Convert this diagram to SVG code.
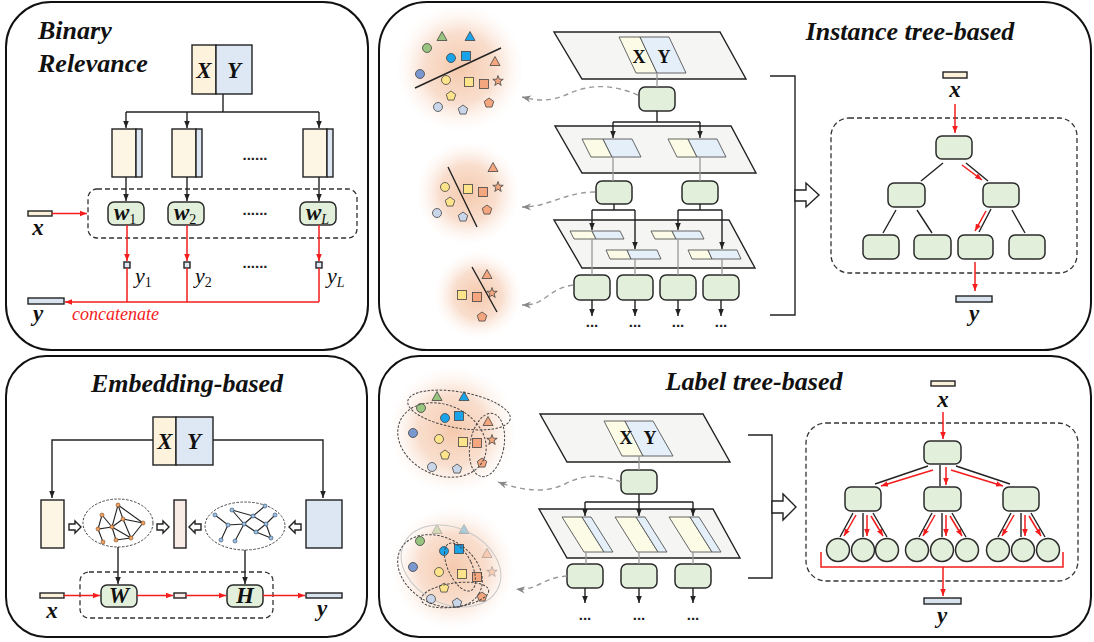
<svg xmlns="http://www.w3.org/2000/svg" width="1094" height="642" viewBox="0 0 1094 642">
<style>
.panel{fill:#fff;stroke:#111;stroke-width:2}
.title{font-family:"Liberation Serif",serif;font-weight:bold;font-style:italic;font-size:26px;fill:#111}
.bi{font-family:"Liberation Serif",serif;font-weight:bold;font-style:italic;font-size:23px;fill:#111}
.it{font-family:"Liberation Serif",serif;font-style:italic;font-size:22px;fill:#111}
.sub{font-family:"Liberation Serif",serif;font-style:normal;font-weight:normal;font-size:14px}
.subi{font-family:"Liberation Serif",serif;font-style:italic;font-weight:normal;font-size:14px}
.xy{font-family:"Liberation Serif",serif;font-weight:bold;font-size:18px;fill:#111}
.dots{font-family:"Liberation Sans",sans-serif;font-size:15px;font-weight:bold;fill:#222;text-anchor:middle}
.node{fill:#e2efda;stroke:#2b2b2b;stroke-width:1.5}
.box{stroke:#222;stroke-width:1.4}
.yel{fill:#fef6e4}
.blu{fill:#dce7f3}
.pink{fill:#f9ece6}
.ln{stroke:#222;stroke-width:1.4;fill:none}
.red{stroke:#f41c1c;stroke-width:1.5;fill:none}
.gl{stroke:#999;stroke-width:1.3;fill:none}
.gdash{stroke:#999;stroke-width:1.4;fill:none;stroke-dasharray:5 4}
.dash{stroke:#333;stroke-width:1.3;fill:none;stroke-dasharray:5 3}
.dot{stroke:#444;stroke-width:1;fill:none;stroke-dasharray:2.5 1.5}
.layer{fill:#f5f5f3;stroke:#222;stroke-width:1.4}
.px{fill:#fbfbe6;stroke:#555;stroke-width:0.9}
.py{fill:#e4effa;stroke:#555;stroke-width:0.9}
.hollow{fill:#fff;stroke:#222;stroke-width:1.4}
.shp{stroke:#444;stroke-width:0.8}
.g{stroke:#222;stroke-width:1.1;fill:none}
</style>
<defs>
<marker id="ab" viewBox="0 0 10 10" refX="10" refY="5" markerWidth="7" markerHeight="7" orient="auto" markerUnits="userSpaceOnUse"><path d="M0,1 L10,5 L0,9 z" fill="#222"/></marker>
<marker id="ar" viewBox="0 0 10 10" refX="10" refY="5" markerWidth="7" markerHeight="7" orient="auto" markerUnits="userSpaceOnUse"><path d="M0,1 L10,5 L0,9 z" fill="#f41c1c"/></marker>
<marker id="ag" viewBox="0 0 10 10" refX="10" refY="5" markerWidth="9" markerHeight="9" orient="auto" markerUnits="userSpaceOnUse"><path d="M0,1 L10,5 L0,9 L3,5 z" fill="#888"/></marker>
<radialGradient id="glow"><stop offset="0" stop-color="#f4c3a3" stop-opacity="0.9"/><stop offset="0.55" stop-color="#f7d3bd" stop-opacity="0.75"/><stop offset="1" stop-color="#fdf0e8" stop-opacity="0"/></radialGradient>
<circle id="sc" r="4.5"/>
<rect id="ss" x="-4.5" y="-4.5" width="9" height="9"/>
<polygon id="st" points="0,-5.5 5,3.5 -5,3.5"/>
<polygon id="sp" points="0,-5 4.76,-1.55 2.94,4.05 -2.94,4.05 -4.76,-1.55"/>
<polygon id="sx" points="0,-5.5 1.29,-1.78 5.23,-1.7 2.09,0.68 3.23,4.45 0,2.2 -3.23,4.45 -2.09,0.68 -5.23,-1.7 -1.29,-1.78"/>
</defs>

<!-- panels -->
<g id="panels">
<rect class="panel" x="6" y="2" width="362" height="348" rx="45"/>
<rect class="panel" x="379" y="2" width="712" height="348" rx="48"/>
<rect class="panel" x="6" y="356" width="361" height="281" rx="40"/>
<rect class="panel" x="379" y="356" width="712" height="281" rx="40"/>
</g>

<!-- ===== Binary Relevance ===== -->
<g id="br-title"><text class="title" x="38" y="39">Binary</text><text class="title" x="38" y="72">Relevance</text></g>
<g id="br-xy">
<rect class="box" x="192" y="45" width="24" height="49" fill="#fdf3dc"/>
<rect class="box" x="216" y="45" width="36" height="49" fill="#dde8f4"/>
<text class="bi" x="204" y="78" text-anchor="middle" font-size="24">X</text>
<text class="bi" x="234" y="78" text-anchor="middle" font-size="24">Y</text>
</g>
<g id="br-col1"><rect class="box yel" x="112" y="129" width="24" height="48"/><rect class="box blu" x="136" y="129" width="6" height="48"/></g>
<g id="br-col2"><rect class="box yel" x="172" y="129" width="24" height="48"/><rect class="box blu" x="196" y="129" width="6" height="48"/></g>
<g id="br-col3"><rect class="box yel" x="303" y="129" width="24" height="48"/><rect class="box blu" x="327" y="129" width="6" height="48"/></g>
<g id="br-w1"><rect class="node" x="108" y="202" width="36" height="23" rx="6"/><text class="bi" x="114" y="220">w<tspan class="sub" dy="4">1</tspan></text></g>
<g id="br-w2"><rect class="node" x="168" y="202" width="36" height="23" rx="6"/><text class="bi" x="174" y="220">w<tspan class="sub" dy="4">2</tspan></text></g>
<g id="br-wL"><rect class="node" x="300" y="202" width="36" height="23" rx="6"/><text class="bi" x="306" y="220">w<tspan class="subi" dy="4">L</tspan></text></g>
<g id="br-x"><rect class="box" x="28" y="211" width="24" height="5" fill="#fbf0d9"/><text class="bi" x="38" y="235" text-anchor="middle">x</text></g>
<g id="br-sq"><rect class="box blu" x="124" y="262" width="6" height="6"/><rect class="box blu" x="184" y="262" width="6" height="6"/><rect class="box blu" x="316" y="262" width="6" height="6"/></g>
<g id="br-ylab">
<text class="it" x="135" y="283">y<tspan class="sub" dy="4">1</tspan></text>
<text class="it" x="195" y="283">y<tspan class="sub" dy="4">2</tspan></text>
<text class="it" x="327" y="283">y<tspan class="subi" dy="4">L</tspan></text>
</g>
<g id="br-y"><rect class="box" x="28" y="298" width="36" height="6" fill="#d9e3ef"/><text class="bi" x="38" y="321" text-anchor="middle">y</text>
<text x="72" y="320" font-family="Liberation Serif, serif" font-style="italic" font-size="18" fill="#f41c1c">concatenate</text></g>
<g id="br-dots"><text class="dots" x="255" y="160">......</text><text class="dots" x="255" y="215">......</text><text class="dots" x="255" y="268">......</text></g>
<rect class="dash" x="88" y="189" width="269" height="49" rx="9"/>
<g id="br-conn">
<path class="ln" d="M223,94 V112 M126,112 H319"/>
<path class="ln" d="M126,112 V128" marker-end="url(#ab)"/>
<path class="ln" d="M187,112 V128" marker-end="url(#ab)"/>
<path class="ln" d="M319,112 V128" marker-end="url(#ab)"/>
<path class="ln" d="M126,177 V201" marker-end="url(#ab)"/>
<path class="ln" d="M187,177 V201" marker-end="url(#ab)"/>
<path class="ln" d="M319,177 V201" marker-end="url(#ab)"/>
<path class="red" d="M52,213.5 H87" marker-end="url(#ar)"/>
<path class="red" d="M127,225 V261" marker-end="url(#ar)"/>
<path class="red" d="M187,225 V261" marker-end="url(#ar)"/>
<path class="red" d="M319,225 V261" marker-end="url(#ar)"/>
<path class="red" d="M127,268 V302 M187,268 V302 M319,268 V302"/>
<path class="red" d="M319,302 H65" marker-end="url(#ar)"/>
</g>

<!-- ===== Instance tree-based ===== -->
<g id="it-clusters">
<circle cx="460" cy="68" r="64" fill="url(#glow)"/>
<circle cx="468" cy="193" r="52" fill="url(#glow)"/>
<circle cx="478" cy="295" r="44" fill="url(#glow)"/>
<g class="shp">
<use href="#st" x="442" y="37" fill="#97c47f"/><use href="#st" x="470" y="37" fill="#1aa3e8"/>
<use href="#sc" x="427" y="48" fill="#97c47f"/><use href="#sc" x="451" y="58" fill="#1aa3e8"/>
<use href="#ss" x="466" y="56" fill="#1aa3e8"/><use href="#st" x="495" y="62" fill="#f4a77e"/>
<use href="#sc" x="420" y="74" fill="#7b97d0"/><use href="#sc" x="446" y="80" fill="#fde38a"/>
<use href="#ss" x="469" y="82" fill="#fde38a"/><use href="#ss" x="484" y="84" fill="#f4a77e"/>
<use href="#sx" x="498" y="81" fill="#f4a77e"/><use href="#sp" x="451" y="96" fill="#fde38a"/>
<use href="#sc" x="438" y="107" fill="#c9d5e8"/><use href="#sp" x="463" y="110" fill="#c9d5e8"/>
<use href="#sp" x="489" y="103" fill="#f4a77e"/>
<use href="#st" x="493" y="168" fill="#f4a77e"/><use href="#sc" x="445" y="187" fill="#fde38a"/>
<use href="#ss" x="468" y="189" fill="#fde38a"/><use href="#ss" x="483" y="192" fill="#f4a77e"/>
<use href="#sx" x="498" y="187" fill="#f4a77e"/><use href="#sp" x="450" y="202" fill="#fde38a"/>
<use href="#sc" x="437" y="213" fill="#c9d5e8"/><use href="#sp" x="463" y="217" fill="#c9d5e8"/>
<use href="#sp" x="487" y="210" fill="#f4a77e"/>
<use href="#st" x="487" y="275" fill="#f4a77e"/><use href="#ss" x="462" y="295" fill="#fde38a"/>
<use href="#ss" x="477" y="297" fill="#f4a77e"/><use href="#sx" x="492" y="293" fill="#f4a77e"/>
<use href="#sp" x="482" y="317" fill="#f4a77e"/>
</g>
<path class="ln" d="M415,88 L501,48 M448,167 L477,227 M472,267 L497,312" stroke-width="1.2"/>
</g>
<g id="it-layer1"><polygon class="layer" points="554,32 720,32 746,79 582,79"/>
<polygon class="px" points="619,37 640,37 657,73 636,73"/><polygon class="py" points="640,37 669,37 686,73 657,73"/>
<text class="xy" x="639" y="63" text-anchor="middle">X</text><text class="xy" x="664" y="63" text-anchor="middle">Y</text></g>
<g id="it-layer2"><polygon class="layer" points="555,126 731,126 756,173 582,173"/>
<polygon class="px" points="582,139 603,139 612,157 591,157"/><polygon class="py" points="603,139 632,139 641,157 612,157"/>
<polygon class="px" points="668,139 688,139 697,157 677,157"/><polygon class="py" points="688,139 717,139 726,157 697,157"/></g>
<g id="it-layer3"><polygon class="layer" points="554,220 729,220 755,268 582,268"/>
<polygon class="px" points="570,231 592,231 596,239 574,239"/><polygon class="py" points="592,231 620,231 624,239 596,239"/>
<polygon class="px" points="606,250 627,250 631,259 610,259"/><polygon class="py" points="627,250 657,250 661,259 631,259"/>
<polygon class="px" points="651,231 672,231 676,239 655,239"/><polygon class="py" points="672,231 700,231 704,239 676,239"/>
<polygon class="px" points="688,250 708,250 712,259 692,259"/><polygon class="py" points="708,250 737,250 741,259 712,259"/></g>
<g id="it-n1"><rect class="node" x="639" y="87" width="36" height="24" rx="6"/></g>
<g id="it-n2a"><rect class="node" x="596" y="181" width="36" height="23" rx="6"/></g>
<g id="it-n2b"><rect class="node" x="682" y="181" width="36" height="23" rx="6"/></g>
<g id="it-n3a"><rect class="node" x="574" y="275" width="36" height="25" rx="6"/></g>
<g id="it-n3b"><rect class="node" x="617" y="275" width="36" height="25" rx="6"/></g>
<g id="it-n3c"><rect class="node" x="660" y="275" width="36" height="25" rx="6"/></g>
<g id="it-n3d"><rect class="node" x="703" y="275" width="36" height="25" rx="6"/></g>
<g id="it-dots"><text class="dots" x="592" y="327">...</text><text class="dots" x="635" y="327">...</text><text class="dots" x="678" y="327">...</text><text class="dots" x="721" y="327">...</text></g>
<g id="it-conn">
<path class="gl" d="M657,73 V87 M613,157 V181 M700,157 V181 M592,239 V275 M635,259 V275 M678,239 V275 M722,259 V275"/>
<path class="ln" d="M657,111 V122 M613,122 H700 M614,204 V210 M592,210 H635 M700,204 V210 M678,210 H722"/>
<path class="ln" d="M613,122 V138" marker-end="url(#ab)"/>
<path class="ln" d="M700,122 V138" marker-end="url(#ab)"/>
<path class="ln" d="M592,210 V230" marker-end="url(#ab)"/>
<path class="ln" d="M635,210 V249" marker-end="url(#ab)"/>
<path class="ln" d="M678,210 V230" marker-end="url(#ab)"/>
<path class="ln" d="M722,210 V249" marker-end="url(#ab)"/>
<path class="ln" d="M592,300 V316" marker-end="url(#ab)"/>
<path class="ln" d="M635,300 V316" marker-end="url(#ab)"/>
<path class="ln" d="M678,300 V316" marker-end="url(#ab)"/>
<path class="ln" d="M721,300 V316" marker-end="url(#ab)"/>
<path class="gdash" d="M638,95 C612,84 590,84 568,94 C548,103 535,100 522,97" marker-end="url(#ag)"/>
<path class="gdash" d="M595,192 C578,192 565,197 550,202 C538,206 530,207 522,207" marker-end="url(#ag)"/>
<path class="gdash" d="M573,285 C560,287 553,292 545,298 C537,304 530,305 522,305" marker-end="url(#ag)"/>
<path class="ln" d="M770,76 H795 V315 H770"/>
<polygon class="hollow" points="795,190 806,190 806,183 819,195 806,207 806,201 795,201"/>
</g>
<g id="it-title"><text class="title" x="910" y="40" text-anchor="middle">Instance tree-based</text></g>
<g id="it-x"><rect class="box" x="943" y="72" width="24" height="6" fill="#fbf0d9"/><text class="bi" x="955" y="97" text-anchor="middle">x</text></g>
<rect class="dash" x="831" y="118" width="246" height="155" rx="18"/>
<g id="it-t-root"><rect class="node" x="936" y="136" width="36" height="23" rx="6"/></g>
<g id="it-t-l"><rect class="node" x="888" y="183" width="37" height="24" rx="6"/></g>
<g id="it-t-r"><rect class="node" x="983" y="183" width="36" height="24" rx="6"/></g>
<g id="it-t-ll"><rect class="node" x="863" y="235" width="36" height="24" rx="6"/></g>
<g id="it-t-lr"><rect class="node" x="914" y="235" width="37" height="24" rx="6"/></g>
<g id="it-t-rl"><rect class="node" x="958" y="235" width="35" height="24" rx="6"/></g>
<g id="it-t-rr"><rect class="node" x="1009" y="235" width="36" height="24" rx="6"/></g>
<g id="it-tconn">
<path class="ln" d="M943,163 L921,181 M966,163 L988,181 M896,210 L883,233 M917,210 L932,233 M991,209 L979,232 M1012,210 L1025,233" stroke-width="1.2"/>
<path class="red" d="M955,104 V133" marker-end="url(#ar)"/>
<path class="red" d="M962,165 L982,180" marker-end="url(#ar)"/>
<path class="red" d="M986,211 L975,231" marker-end="url(#ar)"/>
<path class="red" d="M975,262 V291" marker-end="url(#ar)"/>
</g>
<g id="it-y"><rect class="box" x="956" y="296" width="36" height="6" fill="#d9e3ef"/><text class="bi" x="974" y="321" text-anchor="middle">y</text></g>

<!-- ===== Embedding-based ===== -->
<g id="eb-title"><text class="title" x="187" y="392" text-anchor="middle">Embedding-based</text></g>
<g id="eb-xy">
<rect class="box" x="153" y="417" width="23" height="48" fill="#fdf3dc"/>
<rect class="box" x="176" y="417" width="37" height="48" fill="#dde8f4"/>
<text class="bi" x="165" y="449" text-anchor="middle" font-size="24">X</text>
<text class="bi" x="194" y="449" text-anchor="middle" font-size="24">Y</text>
</g>
<g id="eb-left"><rect class="box yel" x="41" y="500" width="23" height="48"/></g>
<g id="eb-mid"><rect class="box pink" x="174" y="500" width="12" height="48"/></g>
<g id="eb-right"><rect class="box blu" x="306" y="500" width="36" height="48"/></g>
<g id="eb-hollow">
<polygon class="hollow" points="69,524 75,524 75,521 81,527 75,533 75,530 69,530" stroke-width="1.1"/>
<polygon class="hollow" points="157,524 163,524 163,521 169,527 163,533 163,530 157,530" stroke-width="1.1"/>
<polygon class="hollow" points="201,524 195,524 195,521 189,527 195,533 195,530 201,530" stroke-width="1.1"/>
<polygon class="hollow" points="301,524 295,524 295,521 289,527 295,533 295,530 301,530" stroke-width="1.1"/>
</g>
<g id="eb-graph1">
<ellipse class="dot" cx="118" cy="523" rx="35" ry="24"/>
<path class="g" d="M118,505 L123,519 L143,523 M118,505 L143,523 M118,505 L112,527 M102,515 L112,527 M102,515 L98,529 L112,527 M98,529 L103,542 M112,527 L123,519 M112,527 L131,538 M112,527 L116,540 M123,519 L131,538 M143,523 L131,538 M116,540 L131,538"/>
<g fill="#f0a060" stroke="#7a4a20" stroke-width="0.6">
<circle cx="118" cy="505" r="2"/><circle cx="102" cy="515" r="2"/><circle cx="123" cy="519" r="2"/><circle cx="143" cy="523" r="2"/><circle cx="112" cy="527" r="2"/><circle cx="98" cy="529" r="2"/><circle cx="103" cy="542" r="2"/><circle cx="116" cy="540" r="2"/><circle cx="131" cy="538" r="2"/>
</g>
</g>
<g id="eb-graph2">
<ellipse class="dot" cx="245" cy="526" rx="40" ry="24"/>
<path class="g" d="M215,515 L228,525 L244,524 M221,540 L228,525 M232,510 L253,516 L265,506 M232,510 L244,524 M253,516 L266,524 L275,515 M253,516 L244,524 M244,524 L256,532 L266,524 M256,532 L271,538 M266,524 L271,538 M244,524 L235,541"/>
<g fill="#9ec0e0" stroke="#2a4a6a" stroke-width="0.6">
<circle cx="215" cy="515" r="2"/><circle cx="232" cy="510" r="2"/><circle cx="253" cy="516" r="2"/><circle cx="265" cy="506" r="2"/><circle cx="275" cy="515" r="2"/><circle cx="228" cy="525" r="2"/><circle cx="244" cy="524" r="2"/><circle cx="266" cy="524" r="2"/><circle cx="256" cy="532" r="2"/><circle cx="221" cy="540" r="2"/><circle cx="235" cy="541" r="2"/><circle cx="271" cy="538" r="2"/>
</g>
</g>
<rect class="dash" x="80" y="572" width="193" height="46" rx="9"/>
<g id="eb-W"><rect class="node" x="101" y="585" width="36" height="22" rx="6"/><text class="bi" x="119" y="603" text-anchor="middle" font-size="21">W</text></g>
<g id="eb-H"><rect class="node" x="227" y="585" width="36" height="22" rx="6"/><text class="bi" x="245" y="603" text-anchor="middle" font-size="21">H</text></g>
<g id="eb-x"><rect class="box" x="40" y="593" width="24" height="5" fill="#fbf0d9"/><text class="bi" x="52" y="618" text-anchor="middle">x</text></g>
<g id="eb-z"><rect class="box pink" x="174" y="593" width="12" height="5"/></g>
<g id="eb-y"><rect class="box" x="306" y="593" width="36" height="5" fill="#d9e3ef"/><text class="bi" x="322" y="616" text-anchor="middle">y</text></g>
<g id="eb-conn">
<path class="ln" d="M153,440 H52 V498" marker-end="url(#ab)"/>
<path class="ln" d="M213,440 H323 V498" marker-end="url(#ab)"/>
<path class="ln" d="M118,547 V584" marker-end="url(#ab)"/>
<path class="ln" d="M245,550 V584" marker-end="url(#ab)"/>
<path class="red" d="M64,595.5 H100" marker-end="url(#ar)"/>
<path class="red" d="M137,595.5 H173" marker-end="url(#ar)"/>
<path class="red" d="M186,595.5 H226" marker-end="url(#ar)"/>
<path class="red" d="M263,595.5 H305" marker-end="url(#ar)"/>
</g>

<!-- ===== Label tree-based ===== -->
<g id="lt-title"><text class="title" x="754" y="390" text-anchor="middle">Label tree-based</text></g>
<g id="lt-clusters">
<circle cx="453" cy="430" r="64" fill="url(#glow)"/>
<circle cx="453" cy="568" r="62" fill="url(#glow)"/>
<g class="shp">
<use href="#st" x="437" y="397" fill="#97c47f"/><use href="#st" x="464" y="397" fill="#1aa3e8"/>
<use href="#sc" x="421" y="408" fill="#97c47f"/><use href="#sc" x="445" y="418" fill="#1aa3e8"/>
<use href="#ss" x="459" y="416" fill="#1aa3e8"/><use href="#st" x="488" y="422" fill="#f4a77e"/>
<use href="#sc" x="413" y="433" fill="#7b97d0"/><use href="#sc" x="439" y="439" fill="#fde38a"/>
<use href="#ss" x="463" y="442" fill="#fde38a"/><use href="#ss" x="477" y="443" fill="#f4a77e"/>
<use href="#sx" x="492" y="440" fill="#f4a77e"/><use href="#sp" x="445" y="455" fill="#fde38a"/>
<use href="#sc" x="432" y="467" fill="#c9d5e8"/><use href="#sp" x="457" y="469" fill="#c9d5e8"/>
<use href="#sp" x="482" y="463" fill="#f4a77e"/>
</g>
<ellipse class="dot" cx="459" cy="410" rx="52" ry="18" transform="rotate(10 459 410)"/>
<ellipse class="dot" cx="442" cy="440" rx="46" ry="35" transform="rotate(25 442 440)"/>
<ellipse class="dot" cx="487" cy="445" rx="17" ry="32" transform="rotate(10 487 445)"/>
<g class="shp" opacity="0.4">
<use href="#st" x="437" y="530" fill="#97c47f"/><use href="#st" x="464" y="530" fill="#1aa3e8"/>
<use href="#st" x="487" y="554" fill="#f4a77e"/><use href="#sx" x="492" y="572" fill="#f4a77e"/>
</g>
<ellipse cx="451" cy="566" rx="52" ry="38" transform="rotate(25 451 566)" fill="none" stroke="#c8c8c8" stroke-width="1"/>
<g class="shp">
<use href="#sc" x="420" y="541" fill="#97c47f"/><use href="#sc" x="444" y="551" fill="#1aa3e8"/>
<use href="#ss" x="459" y="549" fill="#1aa3e8"/>
<use href="#sc" x="413" y="567" fill="#7b97d0"/><use href="#sc" x="439" y="572" fill="#fde38a"/>
<use href="#ss" x="462" y="574" fill="#fde38a"/><use href="#ss" x="477" y="577" fill="#f4a77e"/>
<use href="#sp" x="444" y="588" fill="#fde38a"/>
<use href="#sc" x="431" y="599" fill="#c9d5e8"/><use href="#sp" x="457" y="603" fill="#c9d5e8"/>
<use href="#sp" x="482" y="597" fill="#f4a77e"/>
</g>
<ellipse class="dot" cx="440" cy="571" rx="45" ry="33" transform="rotate(30 440 571)"/>
<ellipse class="dot" cx="460" cy="567" rx="12" ry="26" transform="rotate(-25 460 567)"/>
<ellipse class="dot" cx="455" cy="595" rx="34" ry="12" transform="rotate(-8 455 595)"/>
</g>
<g id="lt-layer1"><polygon class="layer" points="540,414 703,414 730,462 567,462"/>
<polygon class="px" points="604,421 625,421 643,456 622,456"/><polygon class="py" points="625,421 653,421 673,456 643,456"/>
<text class="xy" x="626" y="444" text-anchor="middle">X</text><text class="xy" x="650" y="444" text-anchor="middle">Y</text></g>
<g id="lt-layer2"><polygon class="layer" points="539,509 713,509 740,558 567,558"/>
<polygon class="px" points="562,517 582,517 604,552 584,552"/><polygon class="py" points="582,517 591,517 613,552 604,552"/>
<polygon class="px" points="615,517 636,517 658,552 637,552"/><polygon class="py" points="636,517 645,517 667,552 658,552"/>
<polygon class="px" points="669,517 690,517 712,552 691,552"/><polygon class="py" points="690,517 699,517 721,552 712,552"/></g>
<g id="lt-n1"><rect class="node" x="621" y="470" width="36" height="24" rx="6"/></g>
<g id="lt-n2a"><rect class="node" x="567" y="564" width="36" height="24" rx="6"/></g>
<g id="lt-n2b"><rect class="node" x="621" y="564" width="36" height="24" rx="6"/></g>
<g id="lt-n2c"><rect class="node" x="675" y="564" width="36" height="24" rx="6"/></g>
<g id="lt-dots"><text class="dots" x="585" y="620">...</text><text class="dots" x="639" y="620">...</text><text class="dots" x="693" y="620">...</text></g>
<g id="lt-conn">
<path class="gl" d="M639,456 V470 M586,552 V564 M639,552 V564 M693,552 V564"/>
<path class="ln" d="M639,494 V502 M585,502 H693"/>
<path class="ln" d="M585,502 V516" marker-end="url(#ab)"/>
<path class="ln" d="M639,502 V516" marker-end="url(#ab)"/>
<path class="ln" d="M693,502 V516" marker-end="url(#ab)"/>
<path class="ln" d="M585,588 V603" marker-end="url(#ab)"/>
<path class="ln" d="M639,588 V603" marker-end="url(#ab)"/>
<path class="ln" d="M693,588 V603" marker-end="url(#ab)"/>
<path class="gdash" d="M621,482 C600,474 585,474 565,484 C545,494 520,490 498,482" marker-end="url(#ag)"/>
<path class="gdash" d="M567,576 C555,577 548,580 540,584 C532,588 525,590 516,589" marker-end="url(#ag)"/>
<path class="ln" d="M748,435 H772 V578 H748"/>
<polygon class="hollow" points="772,501 783,501 783,494 796,507 783,520 783,513 772,513"/>
</g>
<g id="lt-x"><rect class="box" x="931" y="381" width="24" height="5" fill="#fbf0d9"/><text class="bi" x="943" y="407" text-anchor="middle">x</text></g>
<rect class="dash" x="806" y="423" width="272" height="158" rx="20"/>
<g id="lt-root"><rect class="node" x="924" y="441" width="37" height="23" rx="6"/></g>
<g id="lt-l2a"><rect class="node" x="845" y="487" width="36" height="24" rx="6"/></g>
<g id="lt-l2b"><rect class="node" x="924" y="487" width="37" height="24" rx="6"/></g>
<g id="lt-l2c"><rect class="node" x="1003" y="487" width="36" height="24" rx="6"/></g>
<g id="lt-leaves" class="node">
<circle cx="838" cy="550" r="11.5"/><circle cx="863" cy="550" r="11.5"/><circle cx="887" cy="550" r="11.5"/>
<circle cx="917" cy="550" r="11.5"/><circle cx="942" cy="550" r="11.5"/><circle cx="967" cy="550" r="11.5"/>
<circle cx="998" cy="550" r="11.5"/><circle cx="1023" cy="550" r="11.5"/><circle cx="1048" cy="550" r="11.5"/>
</g>
<g id="lt-tconn">
<path class="ln" stroke-width="1.2" d="M928,466 L875,484 M940,465 V486 M956,466 L1010,484
M853,513 L840,537 M863,513 V537 M873,513 L887,537
M932,513 L919,537 M942,513 V537 M952,513 L966,537
M1011,513 L998,537 M1021,513 V537 M1031,513 L1045,537"/>
<path class="red" d="M943,412 V439" marker-end="url(#ar)"/>
<path class="red" d="M933,470 L881,486" marker-end="url(#ar)"/>
<path class="red" d="M946,467 V485" marker-end="url(#ar)"/>
<path class="red" d="M951,470 L1003,486" marker-end="url(#ar)"/>
<path class="red" d="M856,515 L844,536" marker-end="url(#ar)"/>
<path class="red" d="M867,515 V536" marker-end="url(#ar)"/>
<path class="red" d="M871,516 L883,536" marker-end="url(#ar)"/>
<path class="red" d="M935,515 L923,536" marker-end="url(#ar)"/>
<path class="red" d="M946,515 V536" marker-end="url(#ar)"/>
<path class="red" d="M950,516 L962,536" marker-end="url(#ar)"/>
<path class="red" d="M1014,515 L1002,536" marker-end="url(#ar)"/>
<path class="red" d="M1025,515 V536" marker-end="url(#ar)"/>
<path class="red" d="M1029,516 L1041,536" marker-end="url(#ar)"/>
<path class="red" d="M821,552 V567 H1063 V552"/>
<path class="red" d="M943,567 V596" marker-end="url(#ar)"/>
</g>
<g id="lt-y"><rect class="box" x="924" y="598" width="37" height="6" fill="#d9e3ef"/><text class="bi" x="942" y="623" text-anchor="middle">y</text></g>
</svg>
